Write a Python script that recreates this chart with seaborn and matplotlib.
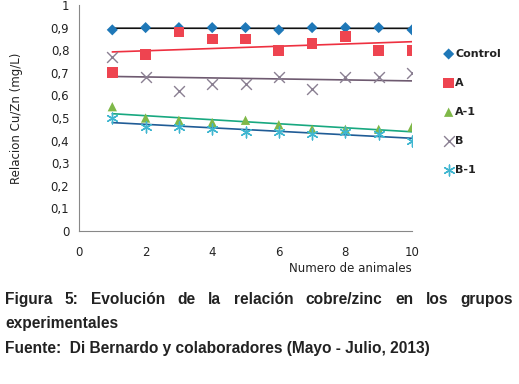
import numpy as np
import pandas as pd
import matplotlib
matplotlib.use("Agg")
import matplotlib.pyplot as plt
import seaborn as sns

x_vals = [1, 2, 3, 4, 5, 6, 7, 8, 9, 10]
control = [0.89, 0.90, 0.90, 0.90, 0.90, 0.89, 0.90, 0.90, 0.90, 0.89]
grupo_a = [0.70, 0.78, 0.88, 0.85, 0.85, 0.80, 0.83, 0.86, 0.80, 0.80]
grupo_a1 = [0.55, 0.50, 0.49, 0.48, 0.49, 0.47, 0.45, 0.45, 0.45, 0.46]
grupo_b = [0.77, 0.68, 0.62, 0.65, 0.65, 0.68, 0.63, 0.68, 0.68, 0.70]
grupo_b1 = [0.50, 0.46, 0.46, 0.45, 0.44, 0.44, 0.43, 0.44, 0.43, 0.40]
series_names = ["Control", "A", "A-1", "B", "B-1"]
y_ticks = [0, 0.1, 0.2, 0.3, 0.4, 0.5, 0.6, 0.7, 0.8, 0.9, 1]
y_tick_labels = ["0", "0,1", "0,2", "0,3", "0,4", "0,5", "0,6", "0,7", "0,8", "0,9", "1"]
x_ticks = [0, 2, 4, 6, 8, 10]

values = [control, grupo_a, grupo_a1, grupo_b, grupo_b1]
df = pd.DataFrame({
    "x": x_vals * 5,
    "y": sum(values, []),
    "serie": sum([[n] * len(x_vals) for n in series_names], []),
})

sns.set_style("white")
plt.rcParams["font.family"] = ["DejaVu Sans"]

marker_colors = {"Control": "#1f78b8", "A": "#ee4450", "A-1": "#7fb848",
                 "B": "#8a7f92", "B-1": "#3fb6d0"}
markers = {"Control": "D", "A": "s", "A-1": "^", "B": "x", "B-1": (6, 2, 0)}
sizes = {"Control": 32, "A": 60, "A-1": 45, "B": 60, "B-1": 60}
line_colors = {"Control": "#111111", "A": "#ee3040", "A-1": "#18a880",
               "B": "#6e5a70", "B-1": "#205c96"}

fig = plt.figure(figsize=(5.19, 3.84), dpi=100)
ax = fig.add_axes([79/519, 1-231/384, (412-79)/519, (231-5)/384])

for name in series_names:
    sub = df[df["serie"] == name]
    sns.regplot(data=sub, x="x", y="y", scatter=False, ci=None, truncate=True,
                ax=ax, line_kws=dict(color=line_colors[name], lw=1.2, zorder=2))
for name in series_names:
    sub = df[df["serie"] == name]
    kw = dict(edgecolor="none") if markers[name] not in ("x",) and name != "B-1" else dict(linewidth=1.0)
    sns.scatterplot(data=sub, x="x", y="y", marker=markers[name], s=sizes[name],
                    color=marker_colors[name], ax=ax, label=name, zorder=3, **kw)

ax.set_xlim(0, 10)
ax.set_ylim(0, 1)
ax.set_yticks(y_ticks)
ax.set_yticklabels(y_tick_labels)
ax.set_xticks(x_ticks)
for s in ["top", "right"]:
    ax.spines[s].set_visible(False)
for s in ["left", "bottom"]:
    ax.spines[s].set_color("#888888")
    ax.spines[s].set_linewidth(0.8)
ax.tick_params(axis="both", direction="out", length=4, width=0.8, color="#888888",
               labelsize=8.5, labelcolor="#222222", pad=3)
ax.tick_params(axis="x", pad=7)
ax.set_xlabel("")
ax.set_ylabel("Relacion Cu/Zn (mg/L)", fontsize=8.5, color="#222222", labelpad=20)
fig.text(412/519, 1-268/384, "Numero de animales", ha="right", va="center",
         fontsize=8.5, color="#222222")

leg = ax.legend(loc="upper left", bbox_to_anchor=(1.06, 0.85), frameon=False,
                labelspacing=1.72, handletextpad=0.0, handlelength=1.2,
                prop=dict(size=8, weight="bold"))
for t in leg.get_texts():
    t.set_color("#222222")

# caption
cap_font = dict(family="Liberation Sans", weight="bold", size=11.2, color="#222222")
words = "Figura 5: Evolución de la relación cobre/zinc en los grupos".split(" ")
fig.canvas.draw()
renderer = fig.canvas.get_renderer()
y1 = 1 - 304/384
tmp = [fig.text(0, y1, w, va="baseline", ha="left", **cap_font) for w in words]
widths = [t.get_window_extent(renderer).width for t in tmp]
x_left, x_right = 5, 513
gap = (x_right - x_left - sum(widths)) / (len(words) - 1)
pos = x_left
for t, w in zip(tmp, widths):
    t.set_x(pos / 519)
    pos += w + gap
fig.text(5/519, 1-328/384, "experimentales", va="baseline", ha="left", **cap_font)
fig.text(5/519, 1-353/384, "Fuente:  Di Bernardo y colaboradores (Mayo - Julio, 2013)",
         va="baseline", ha="left", **cap_font)

fig.savefig("out.png", dpi=100)
